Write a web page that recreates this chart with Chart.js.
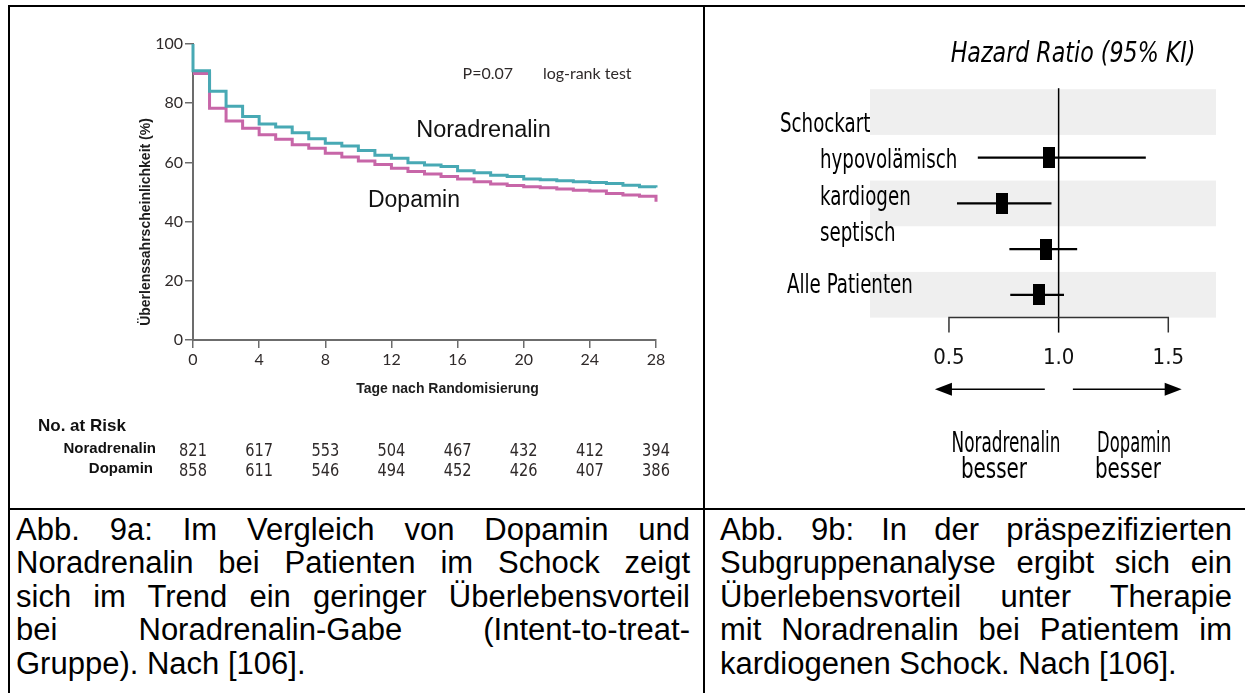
<!DOCTYPE html>
<html><head><meta charset="utf-8">
<script src="https://cdn.jsdelivr.net/npm/chart.js@4.4.0/dist/chart.umd.min.js"></script>
<style>
html,body{margin:0;padding:0;background:#fff;}
body{width:1245px;height:693px;overflow:hidden;position:relative;font-family:"Liberation Sans",Arial,sans-serif;}
.ln{position:absolute;background:#000;}
#kmWrap{position:absolute;left:10px;top:7px;width:693px;height:500px;}
#fpWrap{position:absolute;left:706px;top:7px;width:538px;height:500px;}
.cap{position:absolute;top:513px;font-size:31px;line-height:33.4px;color:#000;}
.cap div{text-align:justify;text-align-last:justify;}
.cap div.last{text-align:left;text-align-last:left;}
</style>
</head><body>
<div class="ln" style="left:8px;top:5px;width:1237px;height:1.5px"></div>
<div class="ln" style="left:8px;top:5px;width:1.5px;height:688px"></div>
<div class="ln" style="left:703px;top:5px;width:1.5px;height:688px"></div>
<div class="ln" style="left:8px;top:508px;width:1237px;height:1.5px"></div>
<div id="kmWrap"><canvas id="km" width="693" height="500"></canvas></div>
<div id="fpWrap"><canvas id="fp" width="538" height="500"></canvas></div>
<div class="cap" style="left:16px;width:674px">
<div>Abb. 9a: Im Vergleich von Dopamin und</div>
<div>Noradrenalin bei Patienten im Schock zeigt</div>
<div>sich im Trend ein geringer Überlebensvorteil</div>
<div>bei Noradrenalin-Gabe (Intent-to-treat-</div>
<div class="last">Gruppe). Nach [106].</div>
</div>
<div class="cap" style="left:720px;width:512px">
<div>Abb. 9b: In der präspezifizierten</div>
<div>Subgruppenanalyse ergibt sich ein</div>
<div>Überlebensvorteil unter Therapie</div>
<div>mit Noradrenalin bei Patientem im</div>
<div class="last">kardiogenen Schock. Nach [106].</div>
</div>
<script>
// ---------- Data: Kaplan-Meier (Abb. 9a) ----------
const days = [0,1,2,3,4,5,6,7,8,9,10,11,12,13,14,15,16,17,18,19,20,21,22,23,24,25,26,27,28];
const survNoradrenalin = [91,84,79,75.5,73,72,70,68,66.5,65.5,64,62.4,61.4,59.9,59.1,58.6,57.2,56.5,55.7,55.2,54.4,54.1,53.8,53.5,53.2,52.9,52.3,51.8,51.5];
const survDopamin = [90,78.3,74,71.5,69.3,67.8,66,64.8,63.1,61.8,60.5,59.3,58,56.9,56.1,55.2,54.4,53.5,52.7,52.2,51.8,51.4,51,50.6,50.3,49.5,49,48.6,46.7];
const survStart = 100;
const xTickStep = 4;
const yTickStep = 20;
const riskDays = [0,4,8,12,16,20,24,28];
const riskNoradrenalin = [821,617,553,504,467,432,412,394];
const riskDopamin = [858,611,546,494,452,426,407,386];
const kmYTitle = 'Überlenssahrscheinlichkeit (%)';
const kmXTitle = 'Tage nach Randomisierung';

// ---------- Data: Forest plot (Abb. 9b) ----------
const rowLabels = ['Schockart','hypovolämisch','kardiogen','septisch','Alle Patienten'];
const hrEst  = [null,0.954,0.743,0.941,0.911];
const hrLow  = [null,0.633,0.538,0.777,0.781];
const hrHigh = [null,1.396,0.966,1.083,1.023];
const hrTicks = [0.5,1.0,1.5];
const hrTitle = 'Hazard Ratio (95% KI)';

// ---------- Styles ----------
const TEAL = '#48a9b4', PINK = '#c766a8', AXIS = '#6c6c6c', TXT = '#2f2a2a';
const NARROW = '"DejaVu Sans Condensed","Liberation Sans Narrow",sans-serif';
const SANS = '"Liberation Sans",Arial,sans-serif';

function sq(ctx, text, x, y, font, s, align){
  ctx.save(); ctx.font = font; ctx.translate(x, y); ctx.scale(s, 1);
  ctx.textAlign = align || 'left'; ctx.textBaseline = 'alphabetic';
  ctx.fillText(text, 0, 0); ctx.restore();
}

// ---------- KM chart ----------
const norPts = [{x:0,y:survStart}].concat(days.map((d,i)=>({x:d,y:survNoradrenalin[i]})));
const dopPts = days.map((d,i)=>({x:d,y:survDopamin[i]}));

const kmAnnot = [
  {text:'Noradrenalin', day:13.5, val:68.6, font:'23.5px '+SANS, color:'#111'},
  {text:'Dopamin', day:10.58, val:44.9, font:'23px '+SANS, color:'#111'},
  {text:'P=0.07', day:16.3, val:88.2, font:'16px Lato,'+SANS, color:TXT},
  {text:'log-rank test', day:21.16, val:88.2, font:'16px Lato,'+SANS, color:TXT}
];

const kmDecor = {
  id:'kmDecor',
  afterDraw(chart){
    const {ctx, scales:{x, y}} = chart;
    ctx.save();
    ctx.fillStyle = '#1d1d1d';
    ctx.save(); ctx.translate(136, 215); ctx.rotate(-Math.PI/2);
    ctx.font = 'bold 14px '+SANS; ctx.textAlign='center'; ctx.textBaseline='middle';
    ctx.fillText(kmYTitle, 0, 0); ctx.restore();
    ctx.font = 'bold 14px '+SANS; ctx.textAlign='center'; ctx.textBaseline='middle';
    ctx.fillText(kmXTitle, 437.5, 382);
    kmAnnot.forEach(a=>{
      ctx.font = a.font; ctx.fillStyle = a.color; ctx.textAlign='left'; ctx.textBaseline='alphabetic';
      ctx.fillText(a.text, x.getPixelForValue(a.day), y.getPixelForValue(a.val));
    });
    ctx.fillStyle = '#111';
    ctx.font = 'bold 17px '+SANS; ctx.textAlign='left'; ctx.textBaseline='middle';
    ctx.fillText('No. at Risk', 28, 419);
    ctx.font = 'bold 15px '+SANS; ctx.textAlign='right';
    ctx.fillText('Noradrenalin', 146, 442);
    ctx.fillText('Dopamin', 143, 462);
    ctx.fillStyle = TXT;
    ctx.textAlign='center';
    riskDays.forEach((d,i)=>{
      const px = x.getPixelForValue(d);
      sq(ctx, String(riskNoradrenalin[i]), px, 449, '18px '+NARROW, 0.9, 'center');
      sq(ctx, String(riskDopamin[i]), px, 469, '18px '+NARROW, 0.9, 'center');
    });
    ctx.restore();
  }
};

new Chart(document.getElementById('km'), {
  type:'line',
  data:{datasets:[
    {label:'Noradrenalin', data:norPts, borderColor:TEAL, borderWidth:3, stepped:true, pointRadius:0, fill:false, clip:false},
    {label:'Dopamin', data:dopPts, borderColor:PINK, borderWidth:3, stepped:true, pointRadius:0, fill:false, clip:false}
  ]},
  options:{
    responsive:false, animation:false,
    layout:{padding:{left:0, top:37, right:47, bottom:127}},
    plugins:{legend:{display:false}, tooltip:{enabled:false}},
    scales:{
      x:{type:'linear', min:0, max:28,
         ticks:{stepSize:xTickStep, autoSkip:false, maxRotation:0, padding:2, color:TXT, font:{family:'Lato', size:16}},
         grid:{drawOnChartArea:false, drawTicks:true, tickLength:8, color:AXIS, lineWidth:1.5},
         border:{color:AXIS, width:2},
         afterFit:s=>{s.height=40;}},
      y:{type:'linear', min:0, max:100,
         ticks:{stepSize:yTickStep, padding:2, color:TXT, font:{family:'Lato', size:16}},
         grid:{drawOnChartArea:false, drawTicks:true, tickLength:8, color:AXIS, lineWidth:1.5},
         border:{color:AXIS, width:2},
         afterFit:s=>{s.width=183;}}
    }
  },
  plugins:[kmDecor]
});

// ---------- Forest plot ----------
const bandRows = [0,2,4];
const labelIndent = [74,114,114,114,81];
const labelBaseOffset = [19.7,10.6,1.6,-8.4,-2.1];

const boxImg = document.createElement('canvas');
boxImg.width = 12; boxImg.height = 21;
(function(){ const c = boxImg.getContext('2d'); c.fillStyle='#000'; c.fillRect(0,0,12,21); })();

const fpDecor = {
  id:'fpDecor',
  beforeDatasetsDraw(chart){
    const {ctx, chartArea:ca, scales:{x, y}} = chart;
    const rowH = (ca.bottom - ca.top)/rowLabels.length;
    ctx.save();
    ctx.fillStyle = '#efefef';
    bandRows.forEach(r=>{
      const cy = y.getPixelForValue(r);
      ctx.fillRect(ca.left, cy-rowH/2, ca.right-ca.left, rowH);
    });
    const x1 = x.getPixelForValue(1.0);
    ctx.strokeStyle = '#000'; ctx.lineWidth = 1.5;
    ctx.beginPath(); ctx.moveTo(x1, ca.top-1); ctx.lineTo(x1, ca.bottom+15); ctx.stroke();
    ctx.strokeStyle = '#333'; ctx.lineWidth = 1.5;
    const xa = x.getPixelForValue(hrTicks[0]), xb = x.getPixelForValue(hrTicks[hrTicks.length-1]);
    ctx.beginPath(); ctx.moveTo(xa, ca.bottom+15); ctx.lineTo(xa, ca.bottom); ctx.lineTo(xb, ca.bottom); ctx.lineTo(xb, ca.bottom+15); ctx.stroke();
    ctx.restore();
  },
  afterDraw(chart){
    const {ctx, scales:{x, y}} = chart;
    ctx.save();
    ctx.fillStyle = '#000';
    sq(ctx, hrTitle, x.getPixelForValue(0.5)+1.7, 54.7, 'italic 28px '+NARROW, 0.88, 'left');
    rowLabels.forEach((l,i)=>{
      sq(ctx, l, labelIndent[i], y.getPixelForValue(i)+labelBaseOffset[i], '26px '+NARROW, 0.78, 'left');
    });
    const ay = 382.3;
    function arrow(from, to){
      const p0 = x.getPixelForValue(from), p1 = x.getPixelForValue(to);
      const dir = Math.sign(p1-p0);
      ctx.strokeStyle='#000'; ctx.lineWidth=1.6;
      ctx.beginPath(); ctx.moveTo(p0, ay); ctx.lineTo(p1-dir*14, ay); ctx.stroke();
      ctx.beginPath(); ctx.moveTo(p1, ay); ctx.lineTo(p1-dir*17, ay-6.5); ctx.lineTo(p1-dir*17, ay+6.5); ctx.closePath(); ctx.fill();
    }
    arrow(0.937, 0.436);
    arrow(1.065, 1.561);
    const f = '28px '+NARROW;
    sq(ctx, 'Noradrenalin', x.getPixelForValue(0.76), 445, f, 0.67, 'center');
    sq(ctx, 'besser', x.getPixelForValue(0.705), 471, f, 0.79, 'center');
    sq(ctx, 'Dopamin', x.getPixelForValue(1.344), 445, f, 0.65, 'center');
    sq(ctx, 'besser', x.getPixelForValue(1.316), 471, f, 0.79, 'center');
    ctx.restore();
  }
};

const boxData = [];
const ciData = [];
rowLabels.forEach((l,i)=>{
  if (hrEst[i] != null) boxData.push({x:hrEst[i], y:l});
  ciData.push(hrLow[i] == null ? null : [hrLow[i], hrHigh[i]]);
});

new Chart(document.getElementById('fp'), {
  type:'bar',
  data:{labels:rowLabels, datasets:[
    {type:'scatter', label:'HR', data:boxData, pointStyle:boxImg, pointRadius:6, showLine:false},
    {type:'bar', label:'95% KI', data:ciData, backgroundColor:'#000', borderWidth:0, barThickness:1.6, grouped:false}
  ]},
  options:{
    indexAxis:'y', responsive:false, animation:false,
    layout:{padding:{left:164, right:28, top:82.2, bottom:119.4}},
    plugins:{legend:{display:false}, tooltip:{enabled:false}},
    scales:{
      x:{type:'linear', min:0.14, max:1.7175,
         afterBuildTicks:s=>{s.ticks = hrTicks.map(v=>({value:v}));},
         ticks:{callback:v=>Number(v).toFixed(1), padding:19, color:'#111', font:{family:'DejaVu Sans Condensed', size:22}, autoSkip:false, maxRotation:0},
         grid:{display:false}, border:{display:false},
         afterFit:s=>{s.height=70;}},
      y:{type:'category', display:false, offset:true}
    }
  },
  plugins:[fpDecor]
});
</script>
</body></html>
